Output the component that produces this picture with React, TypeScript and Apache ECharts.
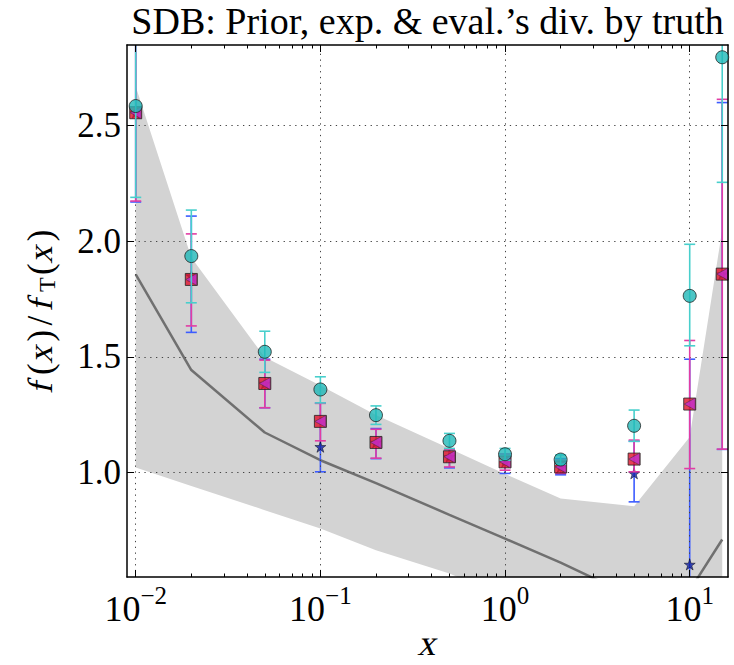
import React, { useEffect, useRef } from "react";
import * as echarts from "echarts";

// ---------- data ----------
const xValues = [0.01, 0.02, 0.05, 0.1, 0.2, 0.5, 1, 2, 5, 10, 15];

const circleY = [2.585, 1.936, 1.522, 1.359, 1.248, 1.137, 1.079, 1.056, 1.202, 1.764, 2.796];
const circleLow = [2.19, 1.734, 1.433, 1.301, 1.208, 1.104, 1.053, 1.036, 1.135, 1.548, 2.255];
const circleHigh = [3.1, 2.135, 1.611, 1.414, 1.288, 1.169, 1.104, 1.076, 1.27, 1.987, 3.3];

const squareY = [2.556, 1.835, 1.385, 1.221, 1.13, 1.068, 1.046, 1.024, 1.058, 1.296, 1.858];
const squareLow = [2.174, 1.634, 1.28, 1.137, 1.062, 1.024, 1.01, 0.996, 1.003, 1.017, 1.101];
const squareHigh = [3.1, 2.032, 1.486, 1.299, 1.187, 1.101, 1.08, 1.055, 1.14, 1.571, 2.614];

const triangleY = [2.556, 1.835, 1.385, 1.221, 1.13, 1.068, 1.046, 1.024, 1.058, 1.296, 1.858];

const starY = [2.556, 1.85, 1.385, 1.111, 1.13, 1.068, 1.046, 1.024, 0.996, 0.602, 1.858];
const starLow = [2.17, 1.606, 1.28, 1.003, 1.06, 1.02, 0.996, 0.99, 0.873, 0.2, 1.1];
const starHigh = [3.1, 2.109, 1.49, 1.3, 1.19, 1.1, 1.08, 1.06, 1.135, 1.49, 2.6];

const priorLine = [1.857, 1.443, 1.173, 1.053, 0.954, 0.817, 0.714, 0.61, 0.46, 0.49, 0.71];
const bandUpper = [2.669, 1.93, 1.498, 1.376, 1.249, 1.104, 0.994, 0.887, 0.854, 1.154, 2.05];
const bandLower = [1.022, 0.942, 0.837, 0.758, 0.664, 0.563, 0.46, 0.37, 0.3, 0.3, 0.4];

const xMajorTicks = [0.01, 0.1, 1, 10];
const xMinorTicks = [
  0.02, 0.03, 0.04, 0.05, 0.06, 0.07, 0.08, 0.09,
  0.2, 0.3, 0.4, 0.5, 0.6, 0.7, 0.8, 0.9,
  2, 3, 4, 5, 6, 7, 8, 9,
];
const yTicks = [1.0, 1.5, 2.0, 2.5];

const X_MIN = 0.00897;
const X_MAX = 16.12;
const Y_MIN = 0.548;
const Y_MAX = 2.849;

const TITLE = "SDB: Prior, exp. & eval.\u2019s div. by truth";
const SERIF = "Liberation Serif";

// y-axis label glyphs: text, italic?, subscript?, advance (em)
const yLabelGlyphs: [string, boolean, boolean, number][] = [
  ["f", true, false, 0.55],
  ["(", false, false, 0.39],
  ["x", true, false, 0.57],
  [")", false, false, 0.39],
  ["/", false, false, 0.46],
  ["f", true, false, 0.55],
  ["T", false, true, 0.5],
  ["(", false, false, 0.39],
  ["x", true, false, 0.57],
  [")", false, false, 0.39],
];

const STAR_PATH =
  "path://M50,0 L61.8,35.4 L100,35.4 L69.1,57.3 L80.9,92.7 L50,70.8 L19.1,92.7 L30.9,57.3 L0,35.4 L38.2,35.4 Z";

const ITALIC_SKEW = -0.22;

function errorBars(name: string, lo: number[], hi: number[], color: string, z: number) {
  return {
    type: "custom",
    name,
    z,
    clip: true,
    data: xValues.map((x, i) => [x, lo[i], hi[i]]),
    encode: { x: 0, y: [1, 2] },
    renderItem: (_params: any, api: any) => {
      const x = api.value(0);
      const a = api.coord([x, api.value(1)]);
      const b = api.coord([x, api.value(2)]);
      const w = 5.5;
      const style = { stroke: color, lineWidth: 1.6, fill: null };
      return {
        type: "group",
        children: [
          { type: "line", shape: { x1: a[0], y1: a[1], x2: b[0], y2: b[1] }, style },
          { type: "line", shape: { x1: a[0] - w, y1: a[1], x2: a[0] + w, y2: a[1] }, style },
          { type: "line", shape: { x1: b[0] - w, y1: b[1], x2: b[0] + w, y2: b[1] }, style },
        ],
      };
    },
  };
}

function pts(ys: number[]) {
  return xValues.map((x, i) => [x, ys[i]]);
}

function xAxisDef(position: "top" | "bottom", ticks: number[], len: number, showLine: boolean, labels: boolean) {
  return {
    type: "log",
    logBase: 10,
    min: X_MIN,
    max: X_MAX,
    position,
    z: 10,
    axisLine: { show: showLine, onZero: false, lineStyle: { color: "#000", width: 1.5 } },
    axisTick: { show: true, inside: true, length: len, customValues: ticks, lineStyle: { color: "#000", width: 1 } },
    axisLabel: labels
      ? {
          show: true,
          customValues: xMajorTicks,
          margin: 6,
          formatter: (v: number) => {
            const e = Math.round(Math.log10(v));
            const s = e < 0 ? "\u2212" + -e : String(e);
            return "{b|10}{s|" + s + "}";
          },
          rich: {
            b: { fontSize: 36, fontFamily: SERIF, color: "#000", lineHeight: 44, verticalAlign: "bottom" },
            s: { fontSize: 25, fontFamily: SERIF, color: "#000", lineHeight: 25, verticalAlign: "top" },
          },
        }
      : { show: false },
    splitLine: { show: false },
    minorTick: { show: false },
  };
}

function yAxisDef(position: "left" | "right", labels: boolean) {
  return {
    type: "value",
    min: Y_MIN,
    max: Y_MAX,
    position,
    z: 10,
    axisLine: { show: true, onZero: false, lineStyle: { color: "#000", width: 1.5 } },
    axisTick: { show: true, inside: true, length: 7, customValues: yTicks, lineStyle: { color: "#000", width: 1 } },
    axisLabel: labels
      ? {
          show: true,
          customValues: yTicks,
          margin: 6,
          fontSize: 35,
          fontFamily: SERIF,
          color: "#000",
          formatter: (v: number) => v.toFixed(1),
        }
      : { show: false },
    splitLine: { show: false },
  };
}

function yLabelChildren(size: number) {
  const total = yLabelGlyphs.reduce((s, g) => s + g[3] * size, 0);
  let pos = -total / 2;
  return yLabelGlyphs.map(([t, it, sub, adv]) => {
    const w = adv * size;
    const cx = pos + w / 2;
    pos += w;
    return {
      type: "text",
      x: cx,
      y: sub ? 7 : 0,
      skewX: it ? ITALIC_SKEW : 0,
      style: {
        text: t,
        fontSize: sub ? 24 : size,
        fontFamily: SERIF,
        fill: "#000",
        align: "center",
        verticalAlign: "middle",
      },
    };
  });
}

export default function App() {
  const ref = useRef<HTMLDivElement>(null);

  useEffect(() => {
    const chart = echarts.init(ref.current!, null, { renderer: "svg" });
    const option: any = {
      animation: false,
      backgroundColor: "#fff",
      grid: { left: 127, right: 6, top: 45, bottom: 88, containLabel: false },
      xAxis: [
        xAxisDef("bottom", xMajorTicks, 7, true, true),
        xAxisDef("bottom", xMinorTicks, 3.5, false, false),
        xAxisDef("top", xMajorTicks, 7, true, false),
        xAxisDef("top", xMinorTicks, 3.5, false, false),
      ],
      yAxis: [yAxisDef("left", true), yAxisDef("right", false)],
      graphic: [
        {
          type: "text",
          x: 427.5,
          y: 20.5,
          style: {
            text: TITLE,
            fontSize: 38,
            fontFamily: SERIF,
            fill: "#000",
            align: "center",
            verticalAlign: "middle",
          },
        },
        {
          type: "text",
          x: 429,
          y: 643,
          skewX: ITALIC_SKEW,
          style: {
            text: "x",
            fontSize: 36,
            fontFamily: SERIF,
            fill: "#000",
            align: "center",
            verticalAlign: "middle",
          },
        },
        {
          type: "group",
          x: 40,
          y: 312,
          rotation: Math.PI / 2,
          children: yLabelChildren(35),
        },
      ],
      series: [
        {
          type: "custom",
          name: "band",
          z: 1,
          clip: true,
          data: [[xValues[0], bandUpper[0]]],
          encode: { x: 0, y: 1 },
          renderItem: (_params: any, api: any) => {
            const up = xValues.map((x, i) => api.coord([x, bandUpper[i]]));
            const lo = xValues.map((x, i) => api.coord([x, bandLower[i]])).reverse();
            return {
              type: "polygon",
              shape: { points: up.concat(lo) },
              style: { fill: "#d3d3d3", stroke: null },
            };
          },
        },
        {
          type: "line",
          name: "grid",
          data: pts(bandLower),
          symbol: "none",
          lineStyle: { opacity: 0 },
          z: 2,
          clip: true,
          markLine: {
            silent: true,
            symbol: ["none", "none"],
            label: { show: false },
            animation: false,
            lineStyle: { color: "#444", width: 1, type: [1.3, 4.5] },
            data: [
              ...xMajorTicks.map((v) => ({ xAxis: v })),
              ...yTicks.map((v) => ({ yAxis: v })),
            ],
          },
        },
        {
          type: "line",
          name: "prior",
          data: pts(priorLine),
          symbol: "none",
          lineStyle: { color: "#707070", width: 2.5 },
          z: 3,
          clip: true,
        },
        errorBars("starErr", starLow, starHigh, "#3c5cff", 4),
        {
          type: "scatter",
          name: "star",
          data: pts(starY),
          symbol: STAR_PATH,
          symbolSize: 11,
          itemStyle: { color: "#1020a8", borderColor: "#000", borderWidth: 0.6 },
          z: 5,
          clip: true,
        },
        errorBars("squareErr", squareLow, squareHigh, "#e23ca4", 6),
        {
          type: "scatter",
          name: "square",
          data: pts(squareY),
          symbol: "rect",
          symbolSize: 12,
          itemStyle: { color: "#e0102a", borderColor: "#222", borderWidth: 1 },
          z: 7,
          clip: true,
        },
        {
          type: "scatter",
          name: "triangle",
          data: pts(triangleY),
          symbol: "triangle",
          symbolRotate: 90,
          symbolSize: [12, 11],
          itemStyle: { color: "#c22ed0", borderColor: "#333", borderWidth: 0.6 },
          z: 8,
          clip: true,
        },
        errorBars("circleErr", circleLow, circleHigh, "#48cfcc", 9),
        {
          type: "scatter",
          name: "circle",
          data: pts(circleY),
          symbol: "circle",
          symbolSize: 13,
          itemStyle: { color: "#1fb8b8", borderColor: "#222", borderWidth: 1 },
          z: 10,
          clip: true,
        },
      ],
    };
    chart.setOption(option);
    return () => chart.dispose();
  }, []);

  return (
    <div
      ref={ref}
      style={{ position: "absolute", left: 0, top: 0, width: 734, height: 665 }}
    />
  );
}
